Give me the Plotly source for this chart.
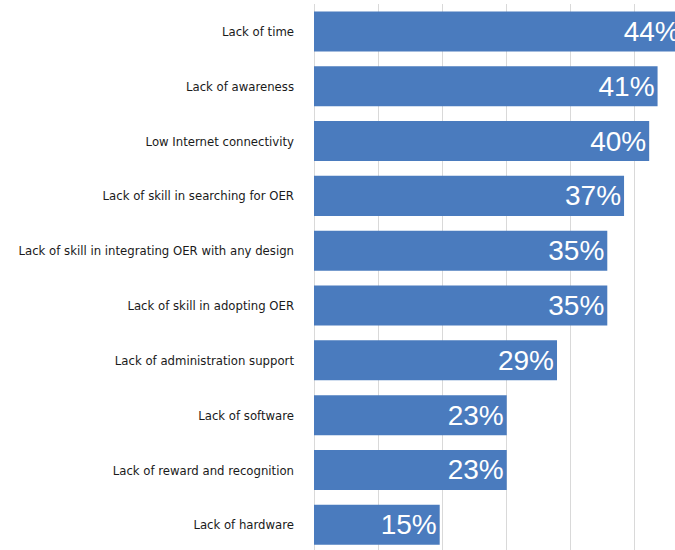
import plotly.graph_objects as go

categories = [
    "Lack of time",
    "Lack of awareness",
    "Low Internet connectivity",
    "Lack of skill in searching for OER",
    "Lack of skill in integrating OER with any design",
    "Lack of skill in adopting OER",
    "Lack of administration support",
    "Lack of software",
    "Lack of reward and recognition",
    "Lack of hardware",
]
percentages = [44, 41, 40, 37, 35, 35, 29, 23, 23, 15]
value_labels = [f"{v}%" for v in percentages]

BAR_COLOR = "#4A7BBE"
GRID_COLOR = "#D9D9D9"

fig = go.Figure(
    go.Bar(
        x=percentages,
        y=categories,
        orientation="h",
        marker=dict(color=BAR_COLOR, line=dict(width=0)),
        text=value_labels,
        textposition="inside",
        insidetextanchor="end",
        textfont=dict(family="Liberation Sans, Arial, sans-serif", size=28, color="white"),
        constraintext="none",
        cliponaxis=True,
        width=0.73,
    )
)

fig.update_layout(
    width=675,
    height=550,
    margin=dict(l=314, r=0, t=4, b=0),
    paper_bgcolor="white",
    plot_bgcolor="white",
    showlegend=False,
    bargap=0.27,
    xaxis=dict(
        range=[0, 43.08],
        tick0=0,
        dtick=7.65,
        showticklabels=False,
        showgrid=True,
        gridcolor=GRID_COLOR,
        gridwidth=1,
        zeroline=True,
        zerolinecolor=GRID_COLOR,
        zerolinewidth=1,
        showline=False,
        fixedrange=True,
    ),
    yaxis=dict(
        categoryorder="array",
        categoryarray=categories,
        range=[9.46, -0.5],
        showgrid=False,
        zeroline=False,
        showline=False,
        ticks="",
        ticklabelstandoff=19,
        tickfont=dict(family="DejaVu Sans Condensed, sans-serif", size=13, color="#1a1a1a"),
        fixedrange=True,
    ),
)

fig.write_html("out.html")
